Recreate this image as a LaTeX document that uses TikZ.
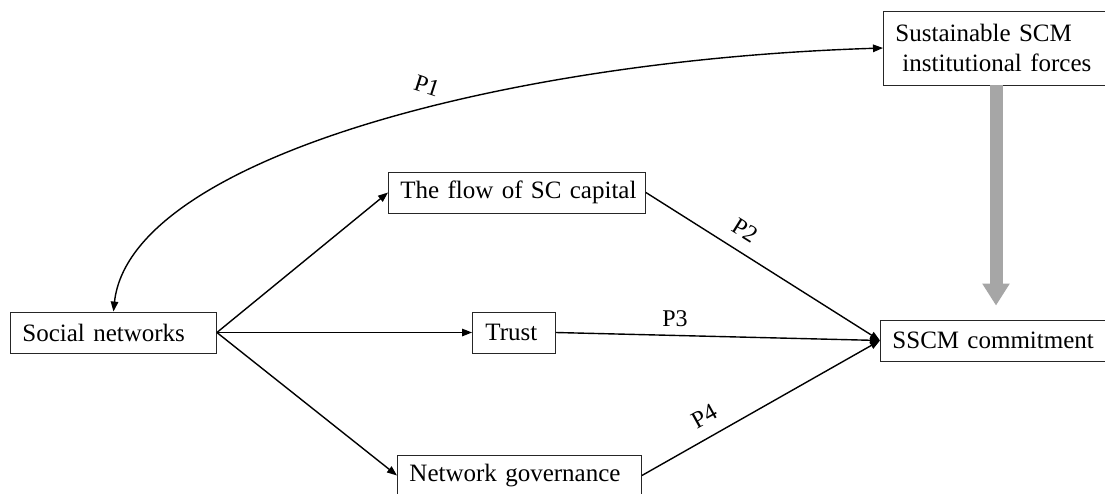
\documentclass[tikz,border=0pt]{standalone}
\usepackage{fontspec}
\setmainfont{Liberation Serif}
\usetikzlibrary{arrows.meta}
\definecolor{arrowgray}{RGB}{166,166,166}
\tikzset{
  box/.style={draw=black!85, line width=0.9pt, rectangle, align=left, inner xsep=12pt, inner ysep=0pt,
    minimum height=41pt, font=\fontsize{25}{30}\selectfont, anchor=west},
  arr/.style={line width=1.4pt, -{Triangle[width=7.5pt,length=10pt]}},
  darr/.style={line width=1.4pt, {Triangle[width=7.5pt,length=10pt]}-{Triangle[width=7.5pt,length=10pt]}},
  plabel/.style={font=\fontsize{24}{28}\selectfont, inner sep=1pt},
  bigarr/.style={draw=arrowgray, line width=13pt, -{Triangle[width=26pt,length=22pt]}}
}
\begin{document}
\begin{tikzpicture}[x=1pt,y=-1pt]
\useasboundingbox (0,0) rectangle (1105,493);
\clip (0,0) rectangle (1105,493);
\fill[white] (0,0) rectangle (1105,493);
\node[box, text width=182pt] (soc) at (10,332.5) {\mbox{Social networks}};
\node[box, text width=233pt] (flow) at (388,192.5) {\mbox{The flow of SC capital}};
\node[box, text width=57pt, inner xsep=13pt] (trust) at (472,332.5) {\mbox{Trust}};
\node[box, text width=220pt] (gov) at (397,475.5) {\mbox{Network governance}};
\node[box, text width=216pt, minimum height=74pt] (sus) at (883,48) {\mbox{Sustainable SCM}\\\hspace*{7pt}\mbox{institutional forces}};
\node[box, text width=216pt] (sscm) at (880,340.5) {\mbox{SSCM commitment}};
\draw[arr] (soc.east) -- (flow.west);
\draw[arr] (soc.east) -- (trust.west);
\draw[arr] (soc.east) -- (gov.west);
\draw[arr] (flow.east) -- (sscm.west);
\draw[arr] (trust.east) -- (sscm.west);
\draw[arr] (gov.east) -- (sscm.west);
\draw[darr] (sus.west) .. controls (500,60) and (130,160) .. (soc.north);
\draw[bigarr, shorten >=14pt] (sus.south -| 996,0) -- (sscm.north -| 996,0);
\node[plabel, rotate=-18] (p1) at (427,86) {P1};
\node[plabel, rotate=-32] (p2) at (745,230) {P2};
\node[plabel] (p3) at (675,319) {P3};
\node[plabel, rotate=29] (p4) at (704,416) {P4};
\end{tikzpicture}
\end{document}
